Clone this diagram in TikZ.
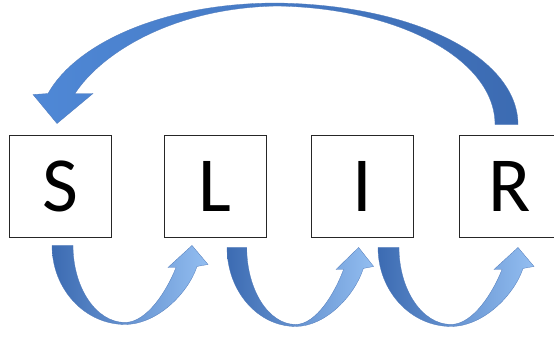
\documentclass[tikz,border=0pt]{standalone}
\usepackage{fontspec}
\setmainfont{Carlito}
\usetikzlibrary{calc}
\definecolor{arrowdark}{HTML}{3C6BB2}
\definecolor{arrowmid}{HTML}{4F88D6}
\definecolor{arrowlight}{HTML}{93BEF1}
\newcommand{\bw}{102pt}
\newcommand{\hop}[2]{%
  \shadedraw[hopfill, shift={(#1)}, xscale=#2]
    (0,0) -- (21,0) .. controls (21,42) and (44,77) .. (73,77)
    .. controls (95,77) and (115,45) .. (124,22) -- (116,22) -- (140,0)
    -- (156,19) -- (145,21) .. controls (136,48) and (105,79) .. (73,79)
    .. controls (33,79) and (0,44) .. (0,0) -- cycle;}
\tikzset{
  box/.style={draw=black!85, line width=0.9pt, minimum width=\bw, minimum height=\bw,
    inner sep=0pt, font=\fontsize{78}{78}\selectfont},
  hopfill/.style={left color=arrowdark, right color=arrowlight, draw=arrowdark!90, line width=0.3pt},
  loopfill/.style={left color=arrowmid, right color=arrowdark, draw=arrowdark!90, line width=0.3pt}
}

\begin{document}
\begin{tikzpicture}[x=1pt, y=-1pt]
\useasboundingbox (0,0) rectangle (554,337);
\clip (0,0) rectangle (554,337);
\node[box] (S) at (60,186) {S};
\node[box] (L) at (215,186) {L};
\node[box] (I) at (362,186) {I};
\node[box] (R) at (510,186) {R};
% hops below the boxes
\coordinate (t1) at ($(S.south)+(-8,8)$);
\coordinate (t2) at ($(L.south)+(12,10)$);
\coordinate (t3) at ($(I.south)+(16,10)$);
\hop{t1}{1}
\hop{t2}{0.94}
\hop{t3}{1}
% loop back from R to S
\coordinate (rt) at ($(R.north)+(-15,-10)$);
\coordinate (sh) at ($(S.north)+(-3,-11)$);
\shadedraw[loopfill] (rt) -- ($(rt)+(23,0)$) .. controls (518,60) and (420,5) .. (277,3)
  .. controls (160,3) and (75,45) .. ($(sh)+(-9,-30)$) -- ($(sh)+(-24,-29)$) -- (sh)
  -- ($(sh)+(36,-30)$) -- ($(sh)+(18,-30)$) .. controls (100,55) and (170,8) .. (277,6)
  .. controls (400,8) and (495,60) .. (rt) -- cycle;
\end{tikzpicture}
\end{document}
